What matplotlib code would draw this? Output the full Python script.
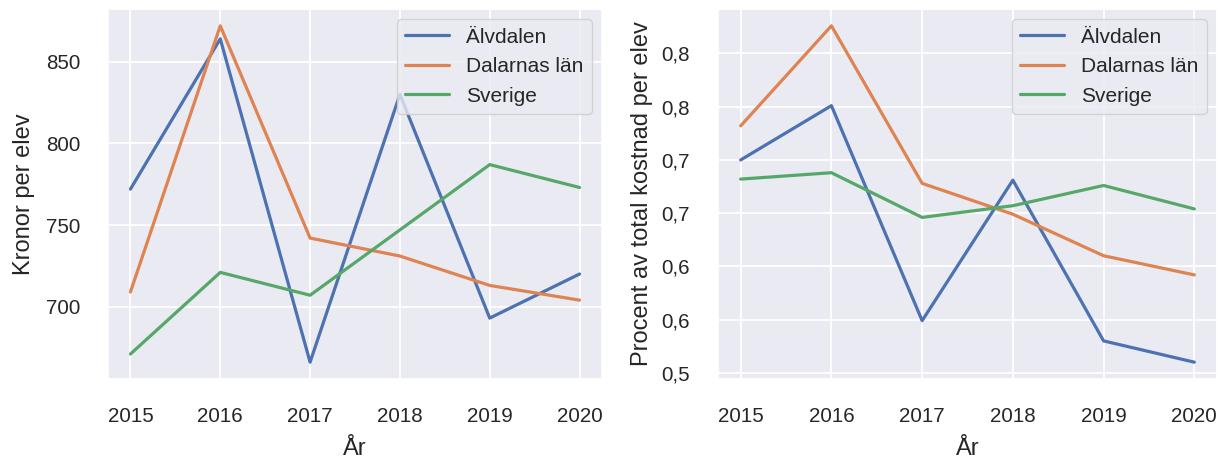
import matplotlib
matplotlib.use('Agg')
import matplotlib.pyplot as plt
import seaborn as sns
from matplotlib.ticker import MultipleLocator, FuncFormatter

# data
years = [2015, 2016, 2017, 2018, 2019, 2020]
series_names = ['Älvdalen', 'Dalarnas län', 'Sverige']

kronor_alvdalen = [772, 864, 666, 830, 693, 720]
kronor_dalarna = [709, 872, 742, 731, 713, 704]
kronor_sverige = [671, 721, 707, 747, 787, 773]

procent_alvdalen = [0.700, 0.751, 0.549, 0.681, 0.530, 0.510]
procent_dalarna = [0.732, 0.826, 0.678, 0.649, 0.610, 0.592]
procent_sverige = [0.682, 0.688, 0.646, 0.657, 0.676, 0.654]

sns.set_theme()
plt.rcParams['font.family'] = ['Liberation Sans', 'DejaVu Sans']

fig = plt.figure(figsize=(12.22, 4.59), dpi=100)
ax1 = fig.add_axes([108 / 1222, 1 - 379 / 459, 494 / 1222, 370 / 459])
ax2 = fig.add_axes([718 / 1222, 1 - 379 / 459, 499 / 1222, 370 / 459])

for ax, vals in [(ax1, [kronor_alvdalen, kronor_dalarna, kronor_sverige]),
                 (ax2, [procent_alvdalen, procent_dalarna, procent_sverige])]:
    for name, v in zip(series_names, vals):
        ax.plot(years, v, label=name, linewidth=2.3)
    ax.set_xlabel('År', fontsize=17, labelpad=9)
    ax.tick_params(labelsize=14.8, pad=14)
    ax.grid(linewidth=1.3)
    ax.legend(loc='upper right', fontsize=15, handlelength=2.1)

ax1.set_ylabel('Kronor per elev', fontsize=17, labelpad=8)
ax2.set_ylabel('Procent av total kostnad per elev', fontsize=17, labelpad=6)
ax2.yaxis.set_major_locator(MultipleLocator(0.05))
ax2.yaxis.set_major_formatter(FuncFormatter(lambda x, p: f'{x:.1f}'.replace('.', ',')))

fig.savefig('out.png', dpi=100)
